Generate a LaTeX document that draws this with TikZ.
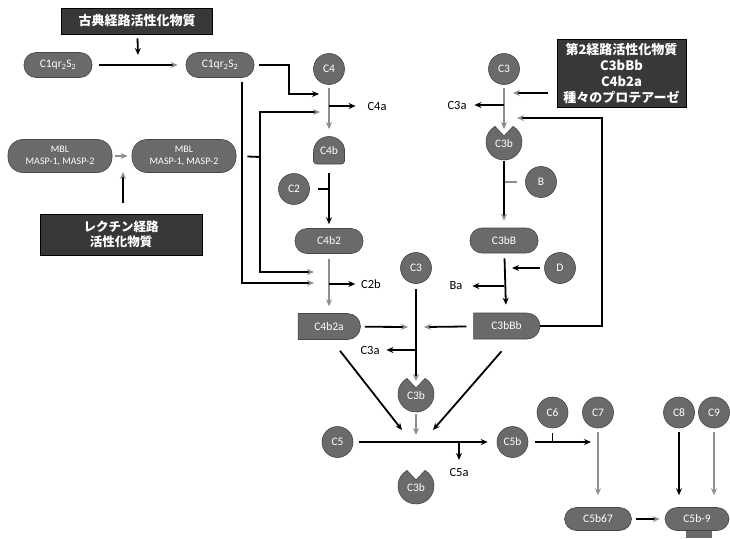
\documentclass[tikz,border=0pt]{standalone}
\usepackage{fontspec}
\setmainfont{Carlito}
\newfontfamily\jpfont{Noto Sans CJK JP}
\usetikzlibrary{arrows.meta,shapes.misc}
\definecolor{nodegray}{HTML}{6A6A6A}
\definecolor{edgegray}{HTML}{454545}
\definecolor{boxgray}{HTML}{383838}
\definecolor{headgray}{HTML}{8E8E8E}
\begin{document}
\begin{tikzpicture}[
        x=1pt, y=-1pt,
        line width=1.8pt,
        comp/.style={circle, draw=edgegray, line width=0.6pt, fill=nodegray, minimum size=31pt, inner sep=0pt, text=white, font=\fontsize{11.5}{13}\selectfont},
        pill/.style={rectangle, rounded corners=12pt, draw=edgegray, line width=0.6pt, fill=nodegray, minimum width=68pt, minimum height=25pt, inner sep=1pt, align=center, text=white, font=\fontsize{11.5}{13}\selectfont},
        mblbox/.style={minimum width=104pt, minimum height=33pt, rounded corners=15pt, font=\fontsize{10}{11.5}\selectfont},
        bullet/.style={rounded rectangle, rounded rectangle left arc=none, draw=edgegray, line width=0.6pt, fill=nodegray, minimum width=69pt, minimum height=26pt, text=white, font=\fontsize{11.5}{13}\selectfont},
        actbox/.style={rectangle, draw=black, line width=0.6pt, fill=boxgray, text=white, align=center, inner sep=1pt, font=\jpfont\bfseries\fontsize{13}{16}\selectfont},
        pactext/.style={circle, minimum size=28pt, inner sep=0pt, text=white, font=\fontsize{11.5}{13}\selectfont},
        lbl/.style={inner sep=0pt, font=\fontsize{12.5}{14}\selectfont},
        arrow/.style={-{Stealth[length=7pt, width=6pt]}},
        harrow/.style={-{Stealth[length=7pt, width=6pt, color=headgray]}},
        garrow/.style={-{Stealth[length=7pt, width=6pt]}, draw=headgray},
        pacman/.pic={\filldraw[draw=edgegray, line width=0.6pt, fill=nodegray] (-60:18) arc[start angle=-60, end angle=240, radius=18] -- (0,-6) -- cycle;},
        blob/.pic={\filldraw[draw=edgegray, line width=0.6pt, fill=nodegray] (15.5,0) arc[start angle=0, end angle=-180, radius=15.5] [rounded corners=3pt] -- (-15.5,12) -- (15.5,12) -- cycle;}
    ]
        \useasboundingbox (0,0) rectangle (730,538);

        % classical and lectin pathways
        \node[actbox, minimum width=151pt, minimum height=26pt] (clsact) at (137,21) {古典経路活性化物質};
        \node[pill] (c1a) at (58,65) {C1qr\textsubscript{2}S\textsubscript{2}};
        \node[pill] (c1b) at (220,65) {C1qr\textsubscript{2}S\textsubscript{2}};
        \coordinate (c1hit) at (138,55);
        \node[pill, mblbox] (mbla) at (60,156) {MBL\\MASP-1, MASP-2};
        \node[pill, mblbox] (mblb) at (184,156) {MBL\\MASP-1, MASP-2};
        \node[actbox, minimum width=162pt, minimum height=41pt, font=\jpfont\bfseries\fontsize{12.5}{15}\selectfont] (lectact) at (121,234.5) {レクチン経路\\活性化物質};
        \coordinate (lecthit) at (123,172);

        \draw[arrow, shorten <=4pt] (clsact) -- (c1hit);
        \draw[harrow, shorten <=7pt, shorten >=8pt] (c1a) -- (c1b);
        \draw[garrow, shorten <=3pt, shorten >=4pt] (mbla) -- (mblb);
        \draw[harrow, shorten <=11pt] (lectact.north -| lecthit) -- (lecthit);

        % C4 / C2 column
        \node[comp] (c4) at (329,69) {C4};
        \pic at (329,152) {blob};
        \node[pactext] (c4b) at (329,151) {C4b};
        \node[comp] (c2) at (294,189) {C2};
        \node[pill] (c4b2) at (329,241) {C4b2};
        \node[bullet] (c4b2a) at (329,326.5) {C4b2a};
        \node[lbl] (c4a) at (377,106) {C4a};
        \node[lbl] (c2b) at (371,284) {C2b};
        \coordinate (c4in1) at (319,94);
        \coordinate (c4in2) at (320,112);
        \coordinate (c2in1) at (314,283);
        \coordinate (c2in2) at (314,272);
        \coordinate (mbljoin) at (260,157);
        \coordinate (c4cut) at (329,106);
        \coordinate (c2cut) at (329,284);

        \draw[arrow, shorten <=5pt] (c1b.east) -- ++(35,0) |- (c4in1);
        \draw[harrow, shorten <=4pt] ([xshift=22pt]c1b.south) |- (c2in1);
        \draw[shorten <=11pt] (mblb.east) -- (mbljoin);
        \draw[harrow] (mbljoin) |- (c4in2);
        \draw[harrow] (mbljoin) |- (c2in2);
        \draw[garrow, shorten <=3pt, shorten >=7pt] (c4) -- (c4b);
        \draw[arrow, shorten >=11pt] (c4cut) -- (c4a);
        \draw[shorten <=8pt] (c2) -- (c2 -| c4b2);
        \draw[arrow, shorten <=7pt, shorten >=4pt] (c4b) -- (c4b2);
        \draw[garrow, shorten <=5pt, shorten >=7pt] (c4b2) -- (c4b2a);
        \draw[arrow, shorten >=5pt] (c2cut) -- (c2b);

        % alternative pathway
        \node[comp] (c3top) at (504,69) {C3};
        \node[actbox, minimum width=129pt, minimum height=68pt] (altact) at (621.5,73) {第2経路活性化物質\\C3bBb\\C4b2a\\種々のプロテアーゼ};
        \pic at (504,142) {pacman};
        \node[pactext] (c3btop) at (504,144) {C3b};
        \node[comp] (bfac) at (541,182) {B};
        \node[pill] (c3bB) at (504,240.5) {C3bB};
        \node[comp] (dfac) at (560,268) {D};
        \node[bullet, minimum width=73pt] (c3bBb) at (506.5,326) {C3bBb};
        \node[lbl] (c3atop) at (457,105) {C3a};
        \node[lbl] (ba) at (456,286) {Ba};
        \coordinate (c3in1) at (513,93);
        \coordinate (c3in2) at (517,118);
        \coordinate (loopturn) at (602,118);
        \coordinate (c3cut) at (504,105);
        \coordinate (bacut) at (504,286);

        \draw[garrow, shorten <=3pt] (c3top) -- (c3btop);
        \draw[harrow, shorten <=9pt] ([yshift=-20pt]altact.west) -- (c3in1);
        \draw[arrow, shorten >=7pt] (c3cut) -- (c3atop);
        \draw[harrow] (c3bBb.east) -| (loopturn) -- (c3in2);
        \draw[draw=headgray, shorten <=8pt] (bfac) -- (bfac -| c3bB);
        \draw[harrow, shorten <=2pt, shorten >=7pt] (c3btop) -- (c3bB);
        \draw[arrow, shorten <=4pt, shorten >=8pt] (dfac) -- (dfac -| c3bB);
        \draw[arrow, shorten <=5pt, shorten >=8pt] (c3bB) -- (c3bBb);
        \draw[arrow, shorten >=9pt] (bacut) -- (ba);

        % C3 convertases and C5 cleavage
        \node[comp] (c3mid) at (416,268) {C3};
        \pic at (416,394) {pacman};
        \node[pactext] (c3bmid) at (416,396) {C3b};
        \node[lbl] (c3amid) at (370,350) {C3a};
        \node[comp] (c5) at (337.5,442) {C5};
        \node[comp] (c5b) at (512.5,442) {C5b};
        \pic at (416,486) {pacman};
        \node[pactext] (c3bbot) at (416,488) {C3b};
        \node[lbl] (c5a) at (459,472) {C5a};
        \coordinate (midinl) at (408,327);
        \coordinate (midinr) at (424,327);
        \coordinate (c3acut) at (416,350);
        \coordinate (c5inl) at (402,430);
        \coordinate (c5inr) at (433,430);
        \coordinate (c5inm) at (416,435);
        \coordinate (c5acut) at (459,442);

        \draw[harrow, shorten <=5pt] (c3mid) -- (c3bmid);
        \draw[harrow, shorten <=4pt] (c4b2a) -- (midinl);
        \draw[harrow, shorten <=7pt] (c3bBb) -- (midinr);
        \draw[arrow, shorten >=6pt] (c3acut) -- (c3amid);
        \draw[arrow] ([shift={(11,11)}]c4b2a.south) -- (c5inl);
        \draw[arrow] ([shift={(-5,12)}]c3bBb.south) -- (c5inr);
        \draw[garrow, shorten <=3pt] (c3bmid) -- (c5inm);
        \draw[arrow, shorten <=6pt, shorten >=9pt] (c5) -- (c5b);
        \draw[arrow, shorten >=7pt] (c5acut) -- (c5a);

        % membrane attack complex
        \node[comp] (c6) at (552.5,412.5) {C6};
        \node[comp] (c7) at (598,412.5) {C7};
        \node[comp] (c8) at (679,412.5) {C8};
        \node[comp] (c9) at (714,412.5) {C9};
        \node[pill, minimum width=67pt, minimum height=23pt] (c5b67) at (598,519) {C5b67};
        \fill[nodegray] (686,528) rectangle (712,538);
        \node[pill, minimum width=64pt, minimum height=23pt] (c5b9) at (697,519) {C5b-9};
        \coordinate (c7in) at (591,442);

        \draw[arrow, shorten <=7pt] (c5b) -- (c7in);
        \draw[shorten <=5pt] (c6) -- (c6 |- c5b);
        \draw[garrow, shorten <=4pt, shorten >=12pt] (c7) -- (c7 |- c5b67.north);
        \draw[arrow, shorten <=4pt, shorten >=12pt] (c8) -- (c8 |- c5b9.north);
        \draw[garrow, shorten <=4pt, shorten >=12pt] (c9) -- (c9 |- c5b9.north);
        \draw[harrow, shorten <=4pt, shorten >=5pt] (c5b67) -- (c5b9);
    \end{tikzpicture}
\end{document}
